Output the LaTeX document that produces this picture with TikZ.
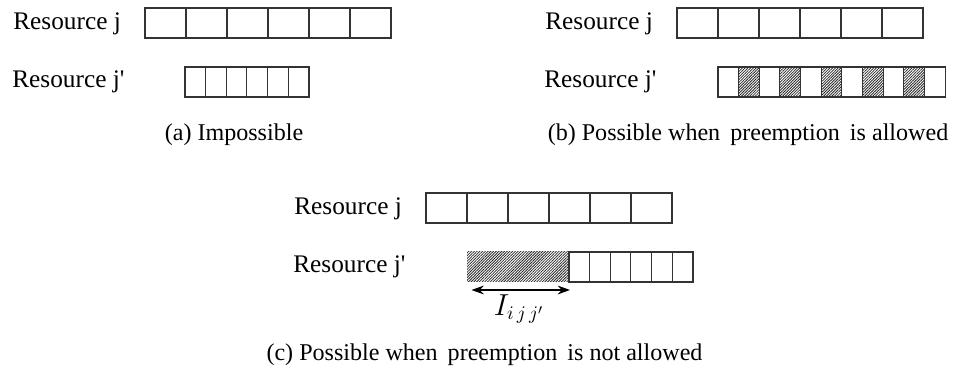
\documentclass[tikz,border=0pt]{standalone}
\usepackage{fontspec}
\setmainfont{Liberation Serif}
\usepackage{amsmath}
\usepackage{tikz}
\usetikzlibrary{calc}
\usetikzlibrary{patterns.meta}
\usetikzlibrary{arrows.meta}
\usetikzlibrary{positioning}

\begin{document}
\begin{tikzpicture}[
  bar/.style={draw=black!80, line width=0.6pt},
  hatch/.style={pattern={Lines[angle=45,distance=1.1pt,line width=0.45pt]}, pattern color=black!85},
  res/.style={anchor=west, inner sep=0pt, font=\fontsize{14.4}{17}\selectfont},
  subcap/.style={inner sep=0pt, font=\fontsize{13.7}{16}\selectfont}]
\useasboundingbox (0,0) rectangle (19.06,7.46);
% (a) impossible
\node[res] (ja) at (0.26,6.98) {Resource j};
\node[res] (jpa) at (0.24,5.82) {Resource j\textquotesingle};
\draw[bar] (2.9,6.7) rectangle (7.82,7.3);
\foreach \i in {1,...,5} \draw[bar] ({2.9+0.82*\i},6.7) -- ++(0,0.6);
\draw[bar] (3.7,5.52) rectangle (6.18,6.12);
\foreach \i in {1,...,5} \draw[bar] ({3.7+0.413*\i},5.52) -- ++(0,0.6);
\node[subcap] (capa) at (4.68,4.76) {(a) Impossible};
% (b) preemption allowed
\begin{scope}[shift={(10.64,0)}]
\node[res] (jb) at (0.26,6.98) {Resource j};
\node[res] (jpb) at (0.24,5.82) {Resource j\textquotesingle};
\draw[bar] (2.9,6.7) rectangle (7.82,7.3);
\foreach \i in {1,...,5} \draw[bar] ({2.9+0.82*\i},6.7) -- ++(0,0.6);
\foreach \i in {1,3,...,9} \fill[hatch] ({3.72+0.413*\i},5.52) rectangle ++(0.413,0.6);
\draw[bar] (3.72,5.52) rectangle (8.263,6.12);
\foreach \i in {1,...,10} \draw[bar] ({3.72+0.413*\i},5.52) -- ++(0,0.6);
\node[subcap] (capb) at (4.32,4.76) {(b) Possible when\, preemption\, is allowed};
\end{scope}
% (c) preemption not allowed
\begin{scope}[shift={(5.62,-3.7)}]
\node[res] (jc) at (0.26,6.98) {Resource j};
\node[res] (jpc) at (0.24,5.82) {Resource j\textquotesingle};
\draw[bar] (2.9,6.7) rectangle (7.82,7.3);
\foreach \i in {1,...,5} \draw[bar] ({2.9+0.82*\i},6.7) -- ++(0,0.6);
\fill[hatch] (3.72,5.52) rectangle (5.76,6.12);
\draw[bar] (5.76,5.52) rectangle (8.24,6.12);
\foreach \i in {1,...,5} \draw[bar] ({5.76+0.413*\i},5.52) -- ++(0,0.6);
\coordinate (la) at (3.81,5.36);
\coordinate (ra) at (5.78,5.36);
\draw[{Stealth[length=7pt,width=5pt]}-{Stealth[length=7pt,width=5pt]}, line width=0.8pt] (la) -- (ra);
\node[inner sep=0pt, font=\fontsize{16}{18}\selectfont] (Iv) at (4.76,4.98) {$I_{i\,j\,j'}$};
\node[subcap] (capc) at (4.07,4.06) {(c) Possible when\, preemption\, is not allowed};
\end{scope}
\end{tikzpicture}
\end{document}
